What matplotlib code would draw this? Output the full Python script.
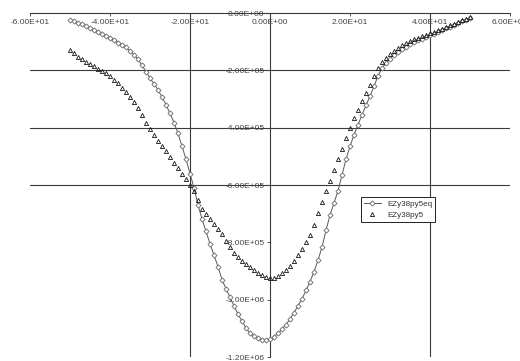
import numpy as np
import matplotlib.pyplot as plt
from matplotlib.ticker import FuncFormatter

# posiciones en x (paso de 1)
x = list(range(-50, 51))

# valores en unidades de 1e5
ezy_eq = [
    -0.24, -0.29, -0.35, -0.40, -0.46, -0.52, -0.58, -0.65, -0.72, -0.80,
    -0.87, -0.95, -1.03, -1.12, -1.20, -1.32, -1.45, -1.62, -1.82, -2.05,
    -2.27, -2.47, -2.68, -2.93, -3.20, -3.50, -3.82, -4.20, -4.65, -5.10,
    -5.60, -6.10, -6.70, -7.18, -7.62, -8.05, -8.45, -8.85, -9.30, -9.62,
    -9.91, -10.22, -10.50, -10.75, -10.98, -11.17, -11.28, -11.35, -11.40, -11.42,
    -11.38, -11.30, -11.18, -11.03, -10.87, -10.68, -10.45, -10.22, -9.97, -9.68,
    -9.37, -9.03, -8.62, -8.17, -7.58, -7.05, -6.63, -6.20, -5.65, -5.10,
    -4.65, -4.25, -3.90, -3.55, -3.22, -2.90, -2.55, -2.20, -1.92, -1.75,
    -1.60, -1.47, -1.36, -1.26, -1.17, -1.09, -1.02, -0.95, -0.89, -0.83,
    -0.78, -0.72, -0.66, -0.60, -0.54, -0.48, -0.41, -0.35, -0.29, -0.23,
    -0.17,
]
ezy = [
    -1.29, -1.40, -1.52, -1.62, -1.70, -1.78, -1.86, -1.94, -2.01, -2.10,
    -2.20, -2.32, -2.45, -2.60, -2.76, -2.93, -3.10, -3.30, -3.55, -3.82,
    -4.05, -4.25, -4.45, -4.63, -4.83, -5.03, -5.22, -5.40, -5.60, -5.80,
    -6.00, -6.22, -6.52, -6.82, -7.02, -7.20, -7.35, -7.52, -7.72, -7.94,
    -8.15, -8.36, -8.52, -8.64, -8.76, -8.86, -8.97, -9.07, -9.15, -9.21,
    -9.25, -9.23, -9.17, -9.08, -8.96, -8.82, -8.64, -8.45, -8.23, -8.00,
    -7.75, -7.38, -6.98, -6.58, -6.20, -5.85, -5.48, -5.10, -4.73, -4.36,
    -4.00, -3.68, -3.38, -3.08, -2.80, -2.50, -2.20, -1.92, -1.72, -1.56,
    -1.43, -1.32, -1.22, -1.13, -1.05, -0.98, -0.92, -0.86, -0.81, -0.76,
    -0.71, -0.66, -0.60, -0.55, -0.49, -0.43, -0.37, -0.31, -0.25, -0.20,
    -0.15,
]

xticks = [-60, -40, -20, 0, 20, 40, 60]
yticks = [0, -2e5, -4e5, -6e5, -8e5, -1e6, -1.2e6]
grid_y = [-2e5, -4e5, -6e5]
grid_x = [-20, 40]

plt.rcParams['font.family'] = ['Liberation Sans', 'DejaVu Sans']

fig = plt.figure(figsize=(5.2, 3.61), dpi=100)
ax = fig.add_axes([30 / 520, 4 / 361, 480 / 520, 344 / 361])

for gy in grid_y:
    ax.axhline(gy, color='#3a3a3a', lw=0.8, zorder=1)
for gx in grid_x:
    ax.axvline(gx, color='#3a3a3a', lw=0.8, zorder=1)

ax.plot(x, np.array(ezy_eq) * 1e5, color='#5a5a5a', lw=0.7, marker='D',
        ms=2.6, mfc='white', mec='#666666', mew=0.6, label='EZy38py5eq', zorder=3)
ax.plot(x, np.array(ezy) * 1e5, ls='none', marker='^', ms=3.0, mfc='none',
        mec='#151515', mew=0.6, label='EZy38py5', zorder=4)

ax.set_xlim(-60, 60)
ax.set_ylim(-1.2e6, 0)

# ejes que se cruzan en el origen, al estilo de una hoja de cálculo
ax.spines['bottom'].set_position(('data', 0))
ax.spines['left'].set_position(('data', 0))
ax.spines['top'].set_visible(False)
ax.spines['right'].set_visible(False)
for s in ('bottom', 'left'):
    ax.spines[s].set_color('#3a3a3a')
    ax.spines[s].set_linewidth(0.8)

ax.set_xticks(xticks)
ax.set_yticks(yticks)
fmt = FuncFormatter(lambda v, p: '%.2E' % v)
ax.xaxis.set_major_formatter(fmt)
ax.yaxis.set_major_formatter(fmt)
ax.tick_params(labelsize=6, labelcolor='#444444', color='#3a3a3a',
               length=2.5, width=0.6, pad=1.5)

leg = ax.legend(loc='upper left', bbox_to_anchor=(0.69, 0.465), fontsize=5.8,
                fancybox=False, edgecolor='#222222', framealpha=1,
                handlelength=2.0, borderpad=0.4, labelspacing=0.4,
                borderaxespad=0)
leg.get_frame().set_linewidth(0.7)
for t in leg.get_texts():
    t.set_color('#333333')

fig.savefig('out.png', dpi=100)
